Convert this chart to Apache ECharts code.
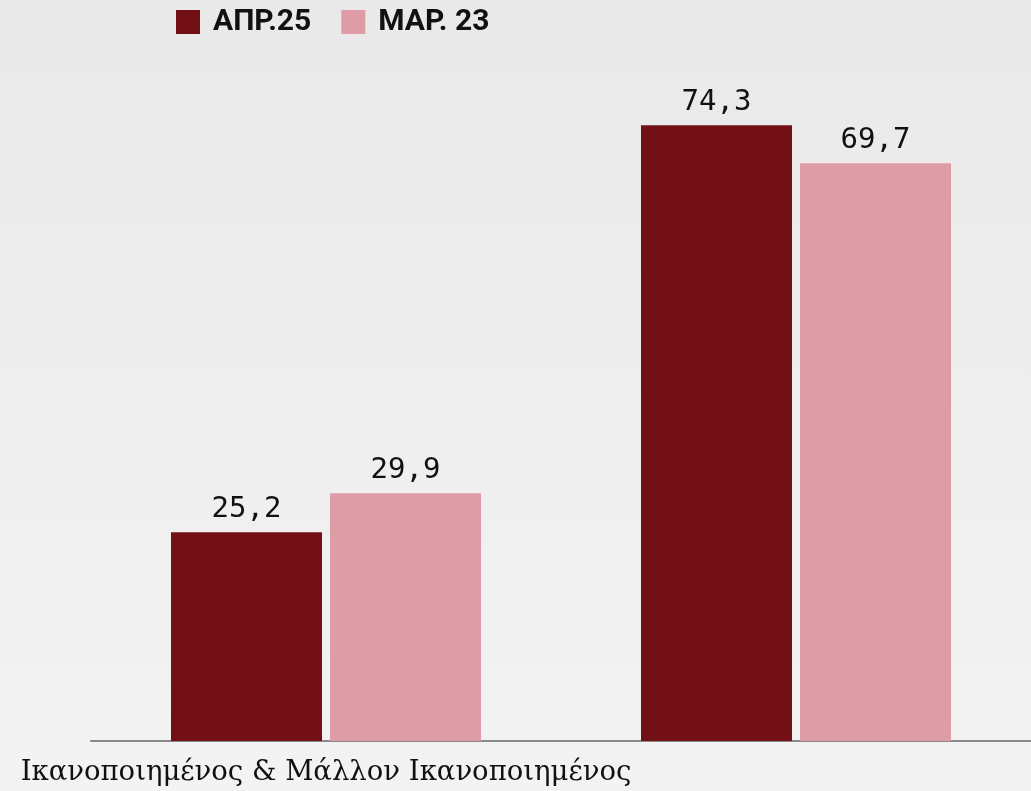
<!DOCTYPE html>
<html style="height: 100%">
  <head>
    <meta charset="utf-8" />
    <title>ECharts</title>
    <script src="https://cdn.jsdelivr.net/npm/echarts@6/dist/echarts.min.js"></script>
  </head>
  <body style="height: 100%; margin: 0">
    <div id="container" style="width: 1031px; height: 791px"></div>

    <script type="text/javascript">
      var categories = ['Ικανοποιημένος & Μάλλον Ικανοποιημένος', 'Δυσαρεστημένος & Μάλλον Δυσαρεστημένος'];
      var seriesNames = ['ΑΠΡ.25', 'ΜΑΡ. 23'];
      var apr25 = [25.2, 74.3];
      var mar23 = [29.9, 69.7];

      var dom = document.getElementById('container');
      var myChart = echarts.init(dom);

      // value label with greek decimal comma
      function commaLabel(p) {
        return String(p.value).replace('.', ',');
      }

      var labelStyle = {
        show: true,
        position: 'top',
        distance: 8,
        fontFamily: 'DejaVu Sans Mono',
        fontSize: 29,
        color: '#111',
        formatter: commaLabel
      };

      myChart.setOption({
        backgroundColor: {
          type: 'linear', x: 0, y: 0, x2: 0, y2: 1,
          colorStops: [
            { offset: 0, color: '#e9e9e9' },
            { offset: 1, color: '#f3f3f3' }
          ]
        },
        legend: {
          left: 171,
          top: 2,
          itemWidth: 24,
          itemHeight: 24,
          itemGap: 30,
          icon: 'rect',
          textStyle: {
            fontFamily: 'Roboto',
            fontWeight: 'bold',
            fontSize: 30,
            color: '#111',
            padding: [0, 0, 0, 8]
          },
          data: seriesNames
        },
        grid: {
          left: 91,
          right: -4,
          top: 78,
          bottom: 50,
          containLabel: false
        },
        xAxis: {
          type: 'category',
          data: categories,
          axisLine: { lineStyle: { color: '#8a8a8a', width: 2 } },
          axisTick: { show: false },
          axisLabel: {
            interval: 1,
            margin: 18,
            fontFamily: 'DejaVu Serif',
            fontSize: 27.5,
            color: '#111'
          }
        },
        yAxis: {
          type: 'value',
          min: 0,
          max: 80,
          show: false,
          splitLine: { show: false }
        },
        series: [
          {
            name: seriesNames[0],
            type: 'bar',
            data: apr25,
            barWidth: 151,
            barGap: '5.3%',
            itemStyle: { color: '#731016' },
            label: labelStyle
          },
          {
            name: seriesNames[1],
            type: 'bar',
            data: mar23,
            barWidth: 151,
            itemStyle: { color: '#de9ca6' },
            label: labelStyle
          }
        ]
      });
    </script>
  </body>
</html>
